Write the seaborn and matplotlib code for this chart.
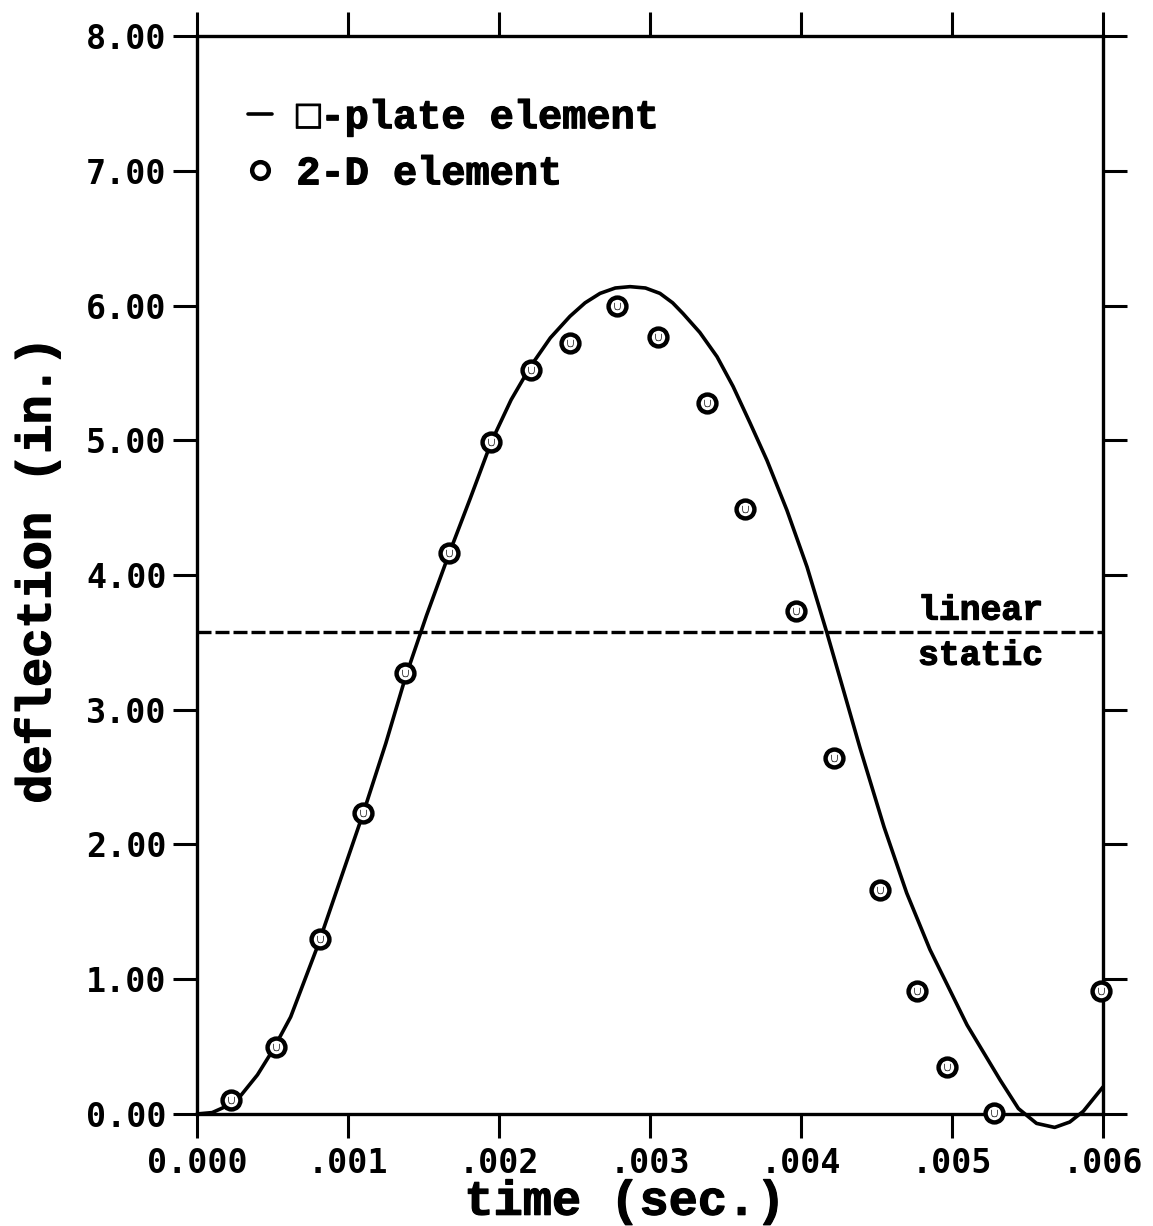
import matplotlib
matplotlib.use("Agg")
import matplotlib.pyplot as plt
import matplotlib.patheffects as pe
import seaborn as sns
from matplotlib.lines import Line2D

# ---- data ----
plate_time = [0.0, 0.0001, 0.00017, 0.000285, 0.0004, 0.0005, 0.00062, 0.00080,
              0.00095, 0.00110, 0.00125, 0.00138, 0.00152, 0.00167, 0.00181,
              0.00195, 0.00208, 0.00221, 0.00234, 0.00247, 0.00257, 0.002669,
              0.00277, 0.002868, 0.00297, 0.003066, 0.00315, 0.003219, 0.00333,
              0.003444, 0.00355, 0.003662, 0.003775, 0.003907, 0.00404, 0.004172,
              0.00428, 0.00439, 0.00455, 0.00470, 0.004854, 0.0051, 0.00532,
              0.00544, 0.00556, 0.00568, 0.00578, 0.00587, 0.00600]
plate_defl = [0.0, 0.01, 0.045, 0.13, 0.29, 0.47, 0.72, 1.25,
              1.74, 2.23, 2.75, 3.24, 3.70, 4.16, 4.57,
              4.99, 5.30, 5.55, 5.76, 5.92, 6.02, 6.09,
              6.13, 6.14, 6.13, 6.09, 6.02, 5.94, 5.80,
              5.62, 5.40, 5.13, 4.85, 4.48, 4.06, 3.57,
              3.15, 2.72, 2.13, 1.64, 1.22, 0.66, 0.25,
              0.04, -0.07, -0.10, -0.06, 0.02, 0.20]

elem2d_time = [0.000225, 0.000523, 0.000815, 0.00110, 0.001377, 0.00167, 0.00195,
               0.00221, 0.00247, 0.00278, 0.00305, 0.00338, 0.00363, 0.00397,
               0.00422, 0.00452, 0.00477, 0.00497, 0.00528, 0.00599]
elem2d_defl = [0.10, 0.50, 1.30, 2.23, 3.27, 4.16, 4.99,
               5.52, 5.72, 6.00, 5.77, 5.28, 4.49, 3.73,
               2.64, 1.66, 0.91, 0.35, 0.01, 0.91]

linear_static = 3.577

x_ticks = [0.000, 0.001, 0.002, 0.003, 0.004, 0.005, 0.006]
x_tick_labels = ["0.000", ".001", ".002", ".003", ".004", ".005", ".006"]
y_ticks = [0, 1, 2, 3, 4, 5, 6, 7, 8]
y_tick_labels = ["0.00", "1.00", "2.00", "3.00", "4.00", "5.00", "6.00", "7.00", "8.00"]

# ---- style ----
sns.set_theme(style="white")
plt.rcParams["font.family"] = ["Liberation Mono", "DejaVu Sans Mono", "DejaVu Sans"]
plt.rcParams["font.weight"] = "bold"
for key in ["text.color", "axes.labelcolor", "xtick.color", "ytick.color",
            "axes.edgecolor"]:
    plt.rcParams[key] = "black"

heavy = [pe.withStroke(linewidth=0.9, foreground="black")]

fig = plt.figure(figsize=(11.53, 12.26), dpi=100)
ax = fig.add_axes([0.1709, 0.0914, 0.7857, 0.8792])

sns.lineplot(x=plate_time, y=plate_defl, ax=ax, color="black", linewidth=2.6,
             sort=False, estimator=None)
sns.scatterplot(x=elem2d_time, y=elem2d_defl, ax=ax, marker="o", s=165,
                facecolor="white", edgecolor="black", linewidth=3.2, zorder=3)
sns.scatterplot(x=elem2d_time, y=elem2d_defl, ax=ax, marker=r"$\cup$", s=40,
                color="black", linewidth=1.0, zorder=4)
for ln in ax.lines:
    ln.set_clip_on(False)
for coll in ax.collections:
    coll.set_clip_on(False)

ax.axhline(linear_static, color="black", linewidth=2.4, dashes=(4.2, 1.2))
ax.text(0.00519, linear_static + 0.04, "linear", ha="center", va="bottom",
        fontsize=25, fontweight="bold", path_effects=heavy)
ax.text(0.00519, linear_static - 0.05, "static", ha="center", va="top",
        fontsize=25, fontweight="bold", path_effects=heavy)

ax.set_xlim(0, 0.006)
ax.set_ylim(0, 8)
ax.set_xticks(x_ticks)
ax.set_xticklabels(x_tick_labels, family="DejaVu Sans Mono", fontweight="bold",
                   fontsize=24)
ax.set_yticks(y_ticks)
ax.set_yticklabels(y_tick_labels, family="DejaVu Sans Mono", fontweight="bold",
                   fontsize=24)
ax.tick_params(axis="both", which="major", direction="out", length=17, width=2.2,
               color="black", top=True, right=True, bottom=True, left=True)
ax.tick_params(axis="x", pad=7)
ax.tick_params(axis="y", pad=5)
for sp in ax.spines.values():
    sp.set_visible(True)
    sp.set_color("black")
    sp.set_linewidth(2.4)

ax.set_xlabel("time (sec.)", fontsize=35, fontweight="bold", path_effects=heavy)
ax.set_ylabel("deflection (in.)", fontsize=35, fontweight="bold", path_effects=heavy)
ax.xaxis.set_label_coords(0.472, -0.061)
ax.yaxis.set_label_coords(-0.151, 0.504)

handles = [Line2D([], [], color="black", linewidth=2.6),
           Line2D([], [], marker="o", linestyle="", markerfacecolor="white",
                  markeredgecolor="black", markeredgewidth=3.2, markersize=12)]
leg = ax.legend(handles, ["\u25a1-plate element", "2-D element"],
                loc="upper left", bbox_to_anchor=(0.034, 0.961), frameon=False,
                borderpad=0.0, handlelength=0.6, handletextpad=0.6,
                labelspacing=0.45, prop={"size": 29, "weight": "bold"})
for t in leg.get_texts():
    t.set_path_effects(heavy)

fig.savefig("out.png", dpi=100, facecolor="white")
